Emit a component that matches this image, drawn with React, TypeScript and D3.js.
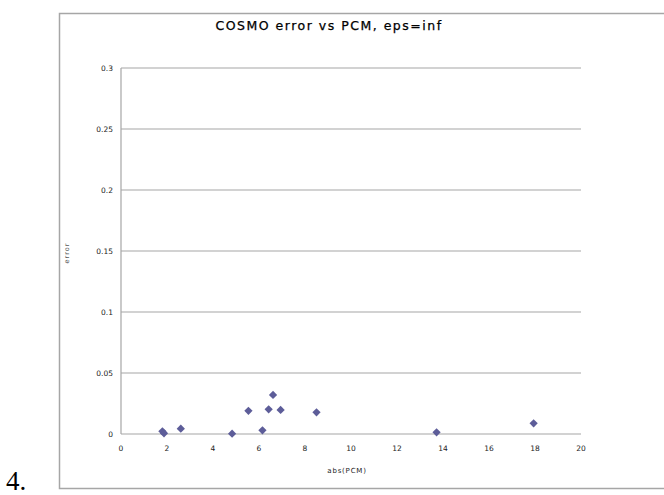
import React from 'react'
import * as d3 from 'd3'

// abs(PCM) vs COSMO error
const pcm = [1.8, 1.87, 2.6, 4.83, 5.54, 6.15, 6.42, 6.61, 6.94, 8.5, 13.72, 17.94]
const err = [0.0022, 0.0006, 0.0044, 0.0003, 0.019, 0.003, 0.0202, 0.032, 0.0197, 0.0178, 0.0014, 0.0088]
const xTicks = [0, 2, 4, 6, 8, 10, 12, 14, 16, 18, 20]
const yTicks = [0, 0.05, 0.1, 0.15, 0.2, 0.25, 0.3]

const W = 664, H = 495
const margin = { top: 68, right: 83, bottom: 61, left: 121 }

export default function App() {
  let x = d3.scaleLinear().domain([0, 20]).range([margin.left, W - margin.right])
  let y = d3.scaleLinear().domain([0, 0.3]).range([H - margin.bottom, margin.top])
  // rotated square = Excel-style diamond
  let diamond = d3.symbol().type(d3.symbolSquare).size(34)

  const grey = '#a6a6a6'
  const font = 'DejaVu Sans, sans-serif'

  return (
    <svg width={W} height={H} style={{ position: 'absolute', left: 0, top: 0 }}>
      <rect x={0} y={0} width={W} height={H} fill="#fff" />
      {/* chart frame */}
      <rect x={59.5} y={13.5} width={640} height={475} fill="none" stroke={grey} strokeWidth={1.5} />

      <text x={329} y={30} textAnchor="middle" fontFamily={font} fontSize={12.5} letterSpacing={1.5} stroke="#000" strokeWidth={0.25}>
        COSMO error vs PCM, eps=inf
      </text>

      {/* horizontal gridlines */}
      {yTicks.map(t => (
        <line key={'g' + t} x1={x(0)} x2={x(20)} y1={y(t)} y2={y(t)} stroke={grey} strokeWidth={1.2} />
      ))}
      <line x1={x(0)} x2={x(0)} y1={y(0)} y2={y(0.3)} stroke={grey} strokeWidth={1.2} />

      {yTicks.map(t => (
        <text key={'y' + t} x={x(0) - 8} y={y(t) + 3} textAnchor="end" fontFamily={font} fontSize={7.5} fill="#222">
          {d3.format('~g')(t)}
        </text>
      ))}
      {xTicks.map(t => (
        <text key={'x' + t} x={x(t)} y={y(0) + 17} textAnchor="middle" fontFamily={font} fontSize={7.5} fill="#222">
          {t}
        </text>
      ))}

      <text x={347} y={473} textAnchor="middle" fontFamily={font} fontSize={7} letterSpacing={0.8} fill="#222">
        abs(PCM)
      </text>
      <text transform="translate(69,253) rotate(-90)" textAnchor="middle" fontFamily={font} fontSize={6.5} letterSpacing={1} fill="#555">
        error
      </text>

      {pcm.map((d, i) => (
        <path key={i} d={diamond() as string} transform={`translate(${x(d)},${y(err[i])}) rotate(45)`} fill="#5d5d99" />
      ))}

      <text x={6} y={490} fontFamily="Liberation Serif, serif" fontSize={27}>4.</text>
    </svg>
  )
}
